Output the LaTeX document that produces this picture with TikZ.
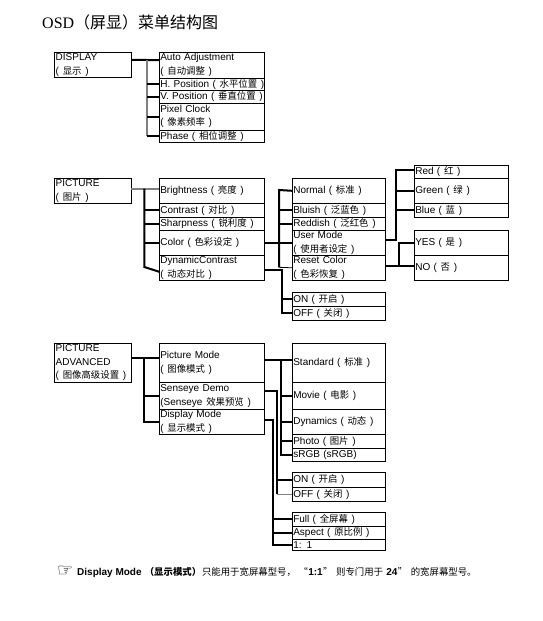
\documentclass[tikz,border=0pt]{standalone}
\usepackage{fontspec}
\setmainfont{Liberation Sans}
\newfontfamily\titlefont{Liberation Serif}
\newfontfamily\cjkfont[Scale=0.94]{Noto Sans CJK SC}
\newfontfamily\titlecjk{Noto Sans CJK SC}
\newfontfamily\handfont{DejaVu Sans}
\newcommand{\zh}[1]{\kern0.4pt\relax{\cjkfont #1}\kern0.4pt\relax}
\usetikzlibrary{positioning}

\begin{document}
\begin{tikzpicture}[x=1pt, y=-1pt, node distance=0pt,
    menubox/.style={rectangle, draw, line width=1pt, outer sep=0pt, inner xsep=1pt, inner ysep=0pt, align=left,
      font=\fontsize{10}{13.5}\selectfont},
    headbox/.style={menubox, text width=74.6pt, minimum height=25pt, anchor=north west},
    itembox/.style={menubox, text width=103pt},
    subbox/.style={menubox, text width=91.4pt},
    leafbox/.style={menubox, text width=92.4pt},
    bus/.style={line width=2pt},
    busgray/.style={line width=1.4pt, gray}]
    \useasboundingbox (0,0) rectangle (542,621);

    \node[anchor=base west, inner sep=0pt] (title) at (42,28)
      {\fontsize{16}{16}\selectfont\titlefont OSD\titlecjk （屏显）菜单结构图};

    % display
    \node[headbox] (display) at (54.7,52.3) {DISPLAY\\( \zh{显示} )};
    \node[itembox, anchor=north west, minimum height=25.7pt] (autoadj) at (159.3,52.3) {Auto Adjustment\\( \zh{自动调整} )};
    \node[itembox, minimum height=12.7pt, below=of autoadj] (hpos) {\mbox{H. Position ( \zh{水平位置} )}};
    \node[itembox, minimum height=12.6pt, below=of hpos] (vpos) {\mbox{V. Position ( \zh{垂直位置} )}};
    \node[itembox, minimum height=26.7pt, below=of vpos] (pixclock) {Pixel Clock\\( \zh{像素频率} )};
    \node[itembox, minimum height=12.7pt, below=of pixclock] (phase) {Phase ( \zh{相位调整} )};

    \coordinate (displaybus) at (147,60);
    \draw[bus] ([yshift=5pt]display.east) -- ([yshift=5pt]autoadj.west);
    \draw[busgray] (displaybus) -- (displaybus |- phase.west);
    \draw[bus] (displaybus |- hpos.west) -- (hpos.west);
    \draw[bus] (displaybus |- vpos.west) -- (vpos.west);
    \draw[bus] (displaybus |- pixclock.west) -- (pixclock.west);
    \draw[bus] (displaybus |- phase.west) -- (phase.west);

    % picture
    \node[headbox] (picture) at (54.7,178.3) {PICTURE\\( \zh{图片} )};
    \node[itembox, anchor=north west, minimum height=25pt] (bright) at (159.3,178.3) {Brightness ( \zh{亮度} )};
    \node[itembox, minimum height=14pt, below=of bright] (contrast) {Contrast ( \zh{对比} )};
    \node[itembox, minimum height=13pt, below=of contrast] (sharp) {Sharpness ( \zh{锐利度} )};
    \node[itembox, minimum height=25pt, below=of sharp] (color) {Color ( \zh{色彩设定} )};
    \node[itembox, minimum height=25pt, below=of color] (dyncontrast) {DynamicContrast\\( \zh{动态对比} )};

    \node[subbox, anchor=north west, minimum height=25pt] (normal) at (292.3,178.3) {Normal ( \zh{标准} )};
    \node[subbox, minimum height=14pt, below=of normal] (bluish) {Bluish ( \zh{泛蓝色} )};
    \node[subbox, minimum height=13pt, below=of bluish] (reddish) {Reddish ( \zh{泛红色} )};
    \node[subbox, minimum height=25pt, below=of reddish] (usermode) {User Mode\\( \zh{使用者设定} )};
    \node[subbox, minimum height=25pt, below=of usermode] (resetcolor) {Reset Color\\( \zh{色彩恢复} )};

    \node[subbox, anchor=north west, minimum height=14pt] (dynon) at (292.3,292.3) {ON ( \zh{开启} )};
    \node[subbox, minimum height=14pt, below=of dynon] (dynoff) {OFF ( \zh{关闭} )};

    \node[leafbox, anchor=north west, minimum height=13pt] (red) at (414.3,165.3) {Red ( \zh{红} )};
    \node[leafbox, minimum height=25pt, below=of red] (green) {Green ( \zh{绿} )};
    \node[leafbox, minimum height=14pt, below=of green] (blue) {Blue ( \zh{蓝} )};
    \node[leafbox, anchor=north west, minimum height=25pt] (yes) at (414.3,230.3) {YES ( \zh{是} )};
    \node[leafbox, minimum height=25pt, below=of yes] (no) {NO ( \zh{否} )};

    \coordinate (picturebus) at (144.3,188.7);
    \draw[busgray] ([yshift=2pt]picture.east) -- ([yshift=2pt]bright.west);
    \draw[bus] (picturebus) -- (picturebus |- 0,267) -- ([yshift=-4pt]dyncontrast.west);
    \draw[bus] (picturebus |- contrast.west) -- (contrast.west);
    \draw[bus] (picturebus |- sharp.west) -- (sharp.west);
    \draw[bus] (picturebus |- color.west) -- (color.west);

    \coordinate (colorbus) at (279,190);
    \draw[bus] (color.east) -- (usermode.west);
    \draw[bus] (normal.west) -- (colorbus) -- (colorbus |- 0,267.3);
    \draw[line width=0.8pt] (colorbus |- 0,267.3) -- (resetcolor.west);
    \draw[bus] (colorbus |- bluish.west) -- (bluish.west);
    \draw[bus] (colorbus |- reddish.west) -- (reddish.west);

    \coordinate (dynbus) at (281.7,270.3);
    \draw[bus] (dyncontrast.east |- dynbus) -- (dynbus) -- (dynbus |- dynoff.west) -- (dynoff.west);
    \draw[bus] (dynbus |- dynon.west) -- (dynon.west);

    \coordinate (userbus) at (396,240);
    \draw[bus] (usermode.east |- userbus) -- (userbus) -- (userbus |- 0,170) -- (red.west |- 0,170);
    \draw[bus] (userbus |- green.west) -- (green.west);
    \draw[bus] (userbus |- blue.west) -- (blue.west);

    \coordinate (resetbus) at (398.7,265.7);
    \draw[bus] (resetcolor.east |- resetbus) -- (no.west |- resetbus);
    \draw[bus] (resetbus) -- (resetbus |- yes.west) -- (yes.west);

    % picture advanced
    \node[headbox, minimum height=39pt] (advanced) at (54.7,343.3) {PICTURE\\ADVANCED\\( \zh{图像高级设置} )};
    \node[itembox, anchor=north west, minimum height=39pt] (picmode) at (159.3,343.3) {Picture Mode\\( \zh{图像模式} )};
    \node[itembox, minimum height=27pt, below=of picmode] (senseye) {Senseye Demo\\(Senseye \zh{效果预览} )};
    \node[itembox, minimum height=25pt, below=of senseye] (dispmode) {Display Mode\\( \zh{显示模式} )};

    \node[subbox, anchor=north west, minimum height=39pt] (standard) at (292.3,343.3) {Standard ( \zh{标准} )};
    \node[subbox, minimum height=27pt, below=of standard] (movie) {Movie ( \zh{电影} )};
    \node[subbox, minimum height=25pt, below=of movie] (dynamics) {Dynamics ( \zh{动态} )};
    \node[subbox, minimum height=14pt, below=of dynamics] (photo) {Photo ( \zh{图片} )};
    \node[subbox, minimum height=12.7pt, below=of photo] (srgb) {sRGB (sRGB)};

    \node[subbox, anchor=north west, minimum height=15pt] (senon) at (292.3,472.3) {ON ( \zh{开启} )};
    \node[subbox, minimum height=14pt, below=of senon] (senoff) {OFF ( \zh{关闭} )};

    \node[subbox, anchor=north west, minimum height=14pt] (full) at (292.3,512.3) {Full ( \zh{全屏幕} )};
    \node[subbox, minimum height=13pt, below=of full] (aspect) {Aspect ( \zh{原比例} )};
    \node[subbox, minimum height=11pt, below=of aspect] (oneone) {1: 1};

    \coordinate (advancedbus) at (144.3,357.7);
    \draw[bus] (advanced.east |- advancedbus) -- (picmode.west |- advancedbus);
    \draw[bus] (advancedbus) -- (advancedbus |- dispmode.west) -- (dispmode.west);
    \draw[bus] (advancedbus |- senseye.west) -- (senseye.west);

    \coordinate (picmodebus) at (280.7,360);
    \draw[bus] (picmode.east |- picmodebus) -- (standard.west |- picmodebus);
    \draw[bus] (picmodebus) -- (picmodebus |- srgb.west) -- (srgb.west);
    \draw[bus] (picmodebus |- movie.west) -- (movie.west);
    \draw[bus] (picmodebus |- dynamics.west) -- (dynamics.west);
    \draw[bus] (picmodebus |- photo.west) -- (photo.west);

    \coordinate (senseyebus) at (276.7,390.7);
    \draw[bus] (senseye.east |- senseyebus) -- (senseyebus) -- (senseyebus |- senoff.west);
    \draw[bus] (senseyebus |- senon.west) -- (senon.west);
    \draw[busgray] (senseyebus |- senoff.west) -- (senoff.west);

    \coordinate (dispmodebus) at (273,419.7);
    \draw[bus] (dispmode.east |- dispmodebus) -- (dispmodebus) -- (dispmodebus |- oneone.west) -- (oneone.west);
    \draw[bus] (dispmodebus |- full.west) -- (full.west);
    \draw[bus] (dispmodebus |- aspect.west) -- (aspect.west);

    % note
    \node[anchor=base west, inner sep=0pt] (hand) at (57,576.5) {\fontsize{18}{18}\selectfont\handfont ☞};
    \node[anchor=base west, inner sep=0pt, font=\fontsize{10}{10}\selectfont] (note) at (77,575.5)
      {\textbf{Display Mode} \zh{\bfseries （显示模式）}\zh{只能用于宽屏幕型号，}\,\zh{“}\textbf{1:1}\zh{”} \zh{则专门用于} \textbf{24}\zh{”} \zh{的宽屏幕型号。}};
\end{tikzpicture}
\end{document}
